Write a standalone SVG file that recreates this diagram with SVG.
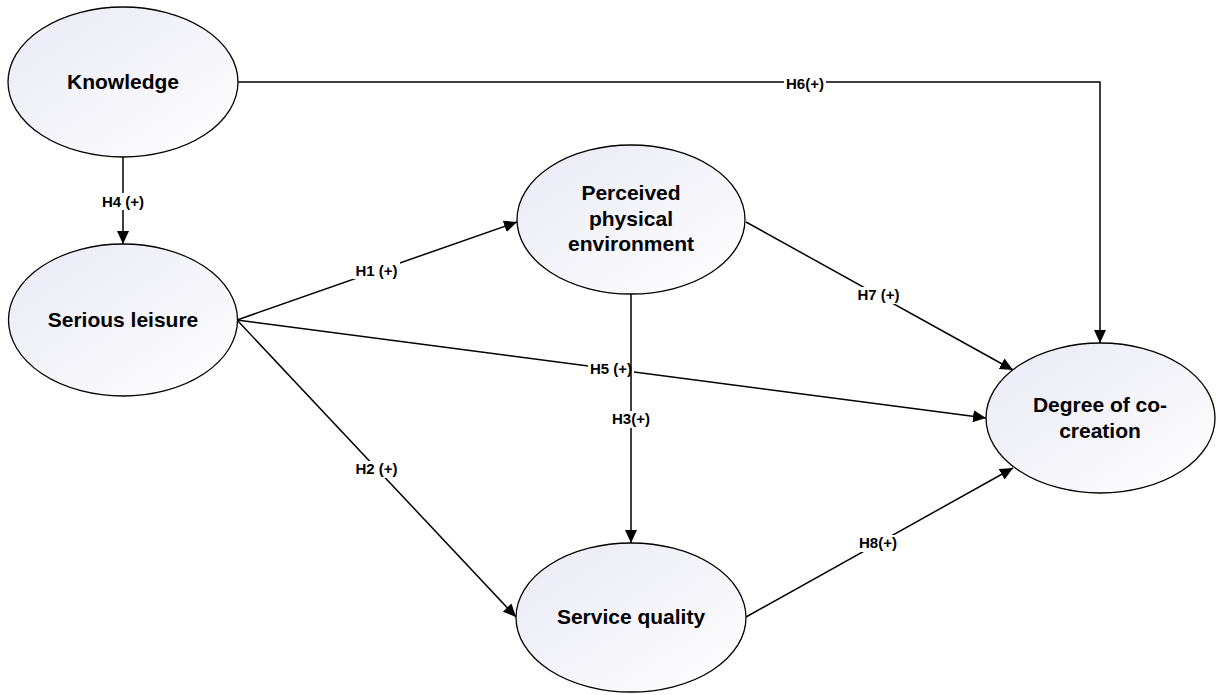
<svg xmlns="http://www.w3.org/2000/svg" width="1216" height="695" viewBox="0 0 1216 695">
<style>
.node{stroke:#000;stroke-width:1.3;fill:url(#g)}
.nt{font-family:"Liberation Sans",Arial,sans-serif;font-weight:bold;font-size:21px;fill:#000;text-anchor:middle}
.edge{stroke:#000;stroke-width:1.5;fill:none;marker-end:url(#arr)}
.lb{fill:#fff}
.lt{font-family:"Liberation Sans",Arial,sans-serif;font-weight:bold;font-size:15px;fill:#000;text-anchor:middle}
</style>
<defs>
<linearGradient id="g" x1="0" y1="0" x2="1" y2="1">
<stop offset="0" stop-color="#e9e9f5"/>
<stop offset="1" stop-color="#ffffff"/>
</linearGradient>
<marker id="arr" markerUnits="userSpaceOnUse" markerWidth="14" markerHeight="12" refX="13" refY="6" orient="auto">
<path d="M0,0 L13,6 L0,12 z" fill="#000"/>
</marker>
</defs>
<rect width="1216" height="695" fill="#fff"/>
<g id="connectors">
<polyline class="edge" points="238,82 1100,82 1100,343"/>
<line class="edge" x1="123" y1="157" x2="123" y2="244"/>
<line class="edge" x1="237" y1="320" x2="517" y2="222"/>
<line class="edge" x1="237" y1="320" x2="516" y2="617"/>
<line class="edge" x1="237" y1="320" x2="986" y2="418"/>
<line class="edge" x1="746" y1="222" x2="1013" y2="370"/>
<line class="edge" x1="746" y1="617" x2="1013" y2="468"/>
<rect class="lb" x="784" y="75" width="42" height="17"/>
<text class="lt" x="805" y="89">H6(+)</text>
<rect class="lb" x="100" y="193" width="46" height="17"/>
<text class="lt" x="123" y="207">H4 (+)</text>
<rect class="lb" x="353" y="262" width="47" height="17"/>
<text class="lt" x="376.5" y="276">H1 (+)</text>
<rect class="lb" x="353" y="461" width="47" height="17"/>
<text class="lt" x="376.5" y="474">H2 (+)</text>
<rect class="lb" x="588" y="361" width="46" height="17"/>
<text class="lt" x="611" y="374">H5 (+)</text>
<rect class="lb" x="855" y="287" width="47" height="17"/>
<text class="lt" x="878.5" y="300">H7 (+)</text>
<line class="edge" x1="631" y1="294" x2="631" y2="543"/>
<rect class="lb" x="610" y="411" width="42" height="17"/>
<text class="lt" x="631" y="424">H3(+)</text>
<rect class="lb" x="857" y="535" width="42" height="17"/>
<text class="lt" x="878" y="548">H8(+)</text>
</g>
<g id="knowledge">
<ellipse class="node" cx="123" cy="82" rx="115" ry="75"/>
<text class="nt" x="123" y="89">Knowledge</text>
</g>
<g id="serious-leisure">
<ellipse class="node" cx="123" cy="320" rx="114.5" ry="76"/>
<text class="nt" x="123" y="327">Serious leisure</text>
</g>
<g id="perceived-physical-environment">
<ellipse class="node" cx="631" cy="219.5" rx="114" ry="74.5"/>
<text class="nt" x="631" y="200">Perceived</text>
<text class="nt" x="631" y="225.5">physical</text>
<text class="nt" x="631" y="251">environment</text>
</g>
<g id="service-quality">
<ellipse class="node" cx="631" cy="617.5" rx="115" ry="74.5"/>
<text class="nt" x="631" y="624">Service quality</text>
</g>
<g id="degree-of-co-creation">
<ellipse class="node" cx="1100.5" cy="418" rx="114.5" ry="75"/>
<text class="nt" x="1100" y="412">Degree of co-</text>
<text class="nt" x="1100" y="437.5">creation</text>
</g>
</svg>
